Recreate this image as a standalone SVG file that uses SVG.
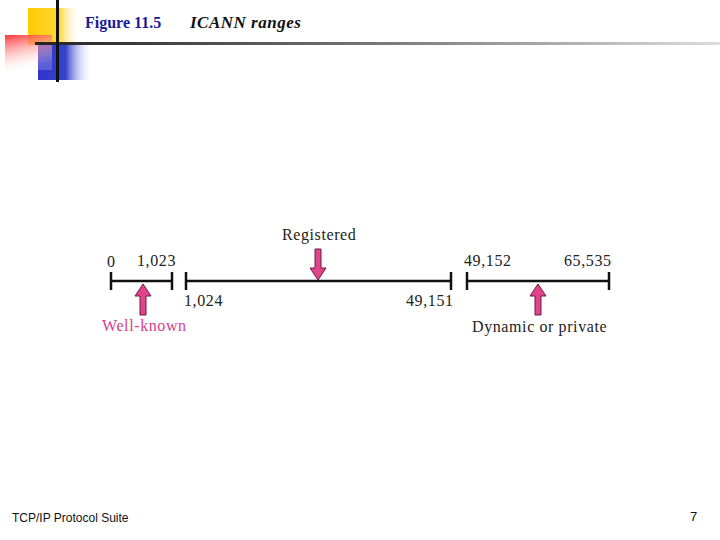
<svg xmlns="http://www.w3.org/2000/svg" width="720" height="540" viewBox="0 0 720 540">
<defs>
<linearGradient id="yel" x1="0" x2="1"><stop offset="0" stop-color="#ffcc00"/><stop offset="0.6" stop-color="#ffd633"/><stop offset="1" stop-color="#fff" stop-opacity="0"/></linearGradient>
<linearGradient id="red" x1="0" y1="0" x2="0.3" y2="1"><stop offset="0" stop-color="#ff3333"/><stop offset="1" stop-color="#ffffff" stop-opacity="0.2"/></linearGradient>
<linearGradient id="blu" x1="0" x2="1"><stop offset="0" stop-color="#3333cc"/><stop offset="0.5" stop-color="#3344cc"/><stop offset="1" stop-color="#fff" stop-opacity="0"/></linearGradient>
<linearGradient id="hl" x1="0" x2="1"><stop offset="0" stop-color="#222"/><stop offset="0.5" stop-color="#777"/><stop offset="1" stop-color="#ddd"/></linearGradient>
<path id="arr" d="M-3,0 L-3,-19 L-8,-19 L0,-31 L8,-19 L3,-19 L3,0 Z"/>
</defs>
<style>
.t{font-family:"Liberation Serif",serif;font-size:16px;letter-spacing:0.6px;fill:#222}
.ax{stroke:#111;stroke-width:2.5;fill:none}
.ar{fill:#e0458c;stroke:#6a1a40;stroke-width:1}
</style>
<rect width="720" height="540" fill="#fff"/>
<g id="decor">
<rect x="28" y="8" width="52" height="37" fill="url(#yel)"/>
<rect x="38" y="45" width="55" height="35" fill="url(#blu)"/>
<rect x="5" y="35" width="47" height="35" fill="url(#red)"/>
<rect x="35" y="42" width="685" height="3" fill="url(#hl)"/>
<rect x="56" y="0" width="3" height="82" fill="#111"/>
</g>
<text x="85" y="28" font-family="Liberation Serif,serif" font-size="16" font-weight="bold" fill="#1a1a99">Figure 11.5</text>
<text x="190" y="28" font-family="Liberation Serif,serif" font-size="17" font-weight="bold" font-style="italic" letter-spacing="0.5" fill="#111">ICANN ranges</text>
<g id="connectors">
<path class="ax" d="M111,281H172M111,272V290M172,272V290"/>
<path class="ax" d="M186,281H451M186,272V290M451,272V290"/>
<path class="ax" d="M467,281H609M467,272V290M609,272V290"/>
</g>
<g id="well-known">
<use href="#arr" class="ar" transform="translate(143,315)"/>
<text class="t" x="102" y="331" style="fill:#d0408a">Well-known</text>
<text class="t" x="107" y="267">0</text>
<text class="t" x="137" y="266">1,023</text>
<text class="t" x="184" y="306">1,024</text>
</g>
<g id="registered">
<use href="#arr" class="ar" transform="translate(318,249) rotate(180)"/>
<text class="t" x="282" y="240">Registered</text>
<text class="t" x="406" y="306">49,151</text>
</g>
<g id="dynamic">
<use href="#arr" class="ar" transform="translate(538,315)"/>
<text class="t" x="472" y="332">Dynamic or private</text>
<text class="t" x="464" y="266">49,152</text>
<text class="t" x="564" y="266">65,535</text>
</g>
<text x="12" y="522" font-family="Liberation Sans,sans-serif" font-size="12" fill="#111">TCP/IP Protocol Suite</text>
<text x="690" y="521" font-family="Liberation Sans,sans-serif" font-size="13" fill="#111">7</text>
</svg>
